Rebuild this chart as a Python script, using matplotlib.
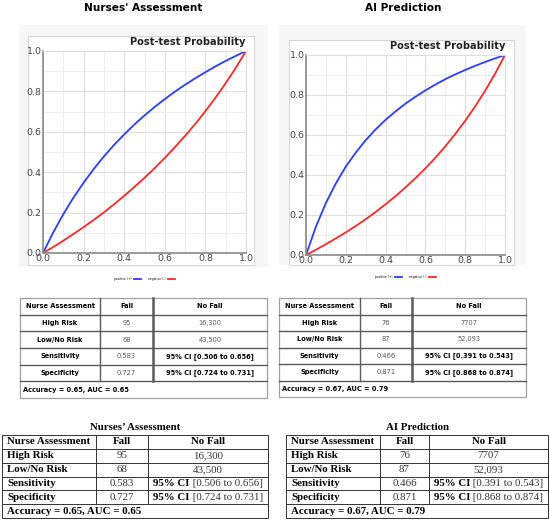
import numpy as np
import matplotlib.pyplot as plt
from matplotlib.patches import Rectangle

W, H = 550, 521

# Post-test probability curves, every 0.05 of pre-test probability
PRETEST = [0.00, 0.05, 0.10, 0.15, 0.20, 0.25, 0.30, 0.35, 0.40, 0.45, 0.50,
           0.55, 0.60, 0.65, 0.70, 0.75, 0.80, 0.85, 0.90, 0.95, 1.00]
NURSE_POS = [0.000, 0.101, 0.192, 0.274, 0.348, 0.416, 0.478, 0.535, 0.587, 0.636, 0.681,
             0.723, 0.762, 0.799, 0.833, 0.865, 0.895, 0.924, 0.951, 0.976, 1.000]
NURSE_NEG = [0.000, 0.029, 0.061, 0.094, 0.128, 0.164, 0.201, 0.241, 0.283, 0.327, 0.372,
             0.420, 0.471, 0.524, 0.580, 0.639, 0.702, 0.769, 0.841, 0.917, 1.000]
AI_POS = [0.000, 0.142, 0.260, 0.358, 0.442, 0.512, 0.574, 0.628, 0.676, 0.718, 0.757,
          0.791, 0.823, 0.852, 0.879, 0.903, 0.925, 0.946, 0.965, 0.983, 1.000]
AI_NEG = [0.000, 0.026, 0.054, 0.083, 0.113, 0.145, 0.179, 0.215, 0.254, 0.294, 0.338,
          0.384, 0.433, 0.486, 0.543, 0.605, 0.671, 0.743, 0.821, 0.906, 1.000]

# Table contents
HEADER = ["Nurse Assessment", "Fall", "No Fall"]
ROW_LABELS = ["High Risk", "Low/No Risk", "Sensitivity", "Specificity"]
NURSE_FALL = ["95", "68", "0.583", "0.727"]
NURSE_NOFALL = ["16,300", "43,500"]
NURSE_CI = ["[0.506 to 0.656]", "[0.724 to 0.731]"]
NURSE_FOOTER = "Accuracy = 0.65, AUC = 0.65"
AI_FALL = ["76", "87", "0.466", "0.871"]
AI_NOFALL = ["7707", "52,093"]
AI_CI = ["[0.391 to 0.543]", "[0.868 to 0.874]"]
AI_FOOTER = "Accuracy = 0.67, AUC = 0.79"

fig = plt.figure(figsize=(W / 100, H / 100), dpi=100)
renderer = fig.canvas.get_renderer()


def px_rect(x0, y0, x1, y1):
    return [x0 / W, 1 - y1 / H, (x1 - x0) / W, (y1 - y0) / H]


def add_box(x0, y0, x1, y1, face, edge="none", lw=0):
    l, b, w, h = px_rect(x0, y0, x1, y1)
    fig.add_artist(Rectangle((l, b), w, h, transform=fig.transFigure,
                             facecolor=face, edgecolor=edge, linewidth=lw, zorder=0))


def draw_plot(panel, box, axbox, title, title_x, pos, neg, legend_y):
    add_box(*panel, face="#f7f7f7")
    add_box(*box, face="white", edge="#d6d6d6", lw=0.8)
    ax = fig.add_axes(px_rect(*axbox))
    ax.plot(PRETEST, pos, color="#2a3cff", lw=1.3, label="positive (+)")
    ax.plot(PRETEST, neg, color="#ff2626", lw=1.3, label="negative (-)")
    ax.set_xlim(0, 1)
    ax.set_ylim(0, 1)
    ax.set_xticks([0, 0.2, 0.4, 0.6, 0.8, 1.0])
    ax.set_yticks([0, 0.2, 0.4, 0.6, 0.8, 1.0])
    ax.set_xticks([0.1, 0.3, 0.5, 0.7, 0.9], minor=True)
    ax.set_yticks([0.1, 0.3, 0.5, 0.7, 0.9], minor=True)
    ax.grid(True, which="major", color="#dedede", lw=0.8)
    ax.grid(True, which="minor", color="#eaeaea", lw=0.6)
    ax.set_axisbelow(True)
    ax.tick_params(which="both", length=0, labelsize=6.8, labelcolor="#444", pad=1)
    for s in ["left", "bottom"]:
        ax.spines[s].set_color("#8a8a8a")
        ax.spines[s].set_linewidth(1.2)
    for s in ["top", "right"]:
        ax.spines[s].set_color("#dddddd")
        ax.spines[s].set_linewidth(0.8)
    h_px = axbox[3] - axbox[1]
    ax.text(1.0, 1 + 9 / h_px, "Post-test Probability", transform=ax.transAxes,
            ha="right", va="center", fontsize=7.1, fontweight="bold", color="#222")
    fig.text(title_x / W, 1 - 8 / H, title, ha="center", va="center",
             fontsize=7.6, fontweight="bold")
    ax.legend(loc="center", bbox_to_anchor=(0.5, -(legend_y - axbox[3]) / h_px),
              ncol=2, frameon=False, fontsize=2.2, handlelength=2.5,
              markerfirst=False, columnspacing=2)
    return ax


draw_plot((19, 25, 268, 267), (28, 36, 254, 265), (43, 51, 246, 253),
          "Nurses' Assessment", 143, NURSE_POS, NURSE_NEG, 279)
draw_plot((279, 25, 526, 265), (289, 40, 514, 265), (306, 55, 505, 255),
          "AI Prediction", 403, AI_POS, AI_NEG, 277)


def table_axes(x0, y0, x1, y1):
    ax = fig.add_axes(px_rect(x0, y0, x1, y1))
    ax.set_xlim(x0, x1)
    ax.set_ylim(y1, y0)
    ax.axis("off")
    return ax


def draw_top_table(x0, y0, x1, y1, cols, fall, nofall, ci, footer):
    ax = table_axes(x0, y0, x1, y1)
    rows = np.linspace(y0, y1, 7)
    mids = (rows[:-1] + rows[1:]) / 2
    edges = [x0] + cols + [x1]
    centers = [(edges[i] + edges[i + 1]) / 2 for i in range(3)]
    ax.add_patch(Rectangle((x0, y0), x1 - x0, y1 - y0, fill=False,
                           edgecolor="#a0a0a0", lw=0.9, clip_on=False))
    for y in rows[1:-1]:
        ax.plot([x0, x1], [y, y], color="#5a5a5a", lw=1.0, clip_on=False)
    ax.plot([cols[0]] * 2, [y0, rows[5]], color="#5a5a5a", lw=1.0, clip_on=False)
    ax.plot([cols[1]] * 2, [y0, rows[5]], color="#5a5a5a", lw=1.8, clip_on=False)
    fs = 4.8
    for c, t in zip(centers, HEADER):
        ax.text(c, mids[0], t, ha="center", va="center", fontsize=fs, fontweight="bold")
    for i, lab in enumerate(ROW_LABELS):
        y = mids[i + 1]
        ax.text(centers[0], y, lab, ha="center", va="center", fontsize=fs, fontweight="bold")
        ax.text(centers[1], y, fall[i], ha="center", va="center", fontsize=fs, color="#555")
        if i < 2:
            ax.text(centers[2], y, nofall[i], ha="center", va="center", fontsize=fs, color="#555")
        else:
            ax.text(centers[2], y, "95% CI " + ci[i - 2], ha="center", va="center",
                    fontsize=fs, fontweight="bold")
    ax.text(x0 + 3, mids[5], footer, ha="left", va="center", fontsize=fs, fontweight="bold")


def draw_bottom_table(x0, y0, x1, y1, cols, title, fall, nofall, ci, footer):
    ax = table_axes(x0, y0, x1, y1)
    serif = dict(family="Liberation Serif", fontsize=7.8)
    rows = np.linspace(y0, y1, 7)
    mids = (rows[:-1] + rows[1:]) / 2
    edges = [x0] + cols + [x1]
    centers = [(edges[i] + edges[i + 1]) / 2 for i in range(3)]
    ax.add_patch(Rectangle((x0, y0), x1 - x0, y1 - y0, fill=False,
                           edgecolor="#333", lw=0.7, clip_on=False))
    for y in rows[1:-1]:
        ax.plot([x0, x1], [y, y], color="#333", lw=0.7, clip_on=False)
    for c in cols:
        ax.plot([c, c], [y0, rows[5]], color="#333", lw=0.7, clip_on=False)
    ax.text((x0 + x1) / 2, y0 - 7, title, ha="center", va="center",
            fontweight="bold", **serif)
    for c, t in zip(centers, HEADER):
        ax.text(c, mids[0], t, ha="center", va="center", fontweight="bold", **serif)
    for i, lab in enumerate(ROW_LABELS):
        y = mids[i + 1]
        ax.text(x0 + 5, y, lab, ha="left", va="center", fontweight="bold", **serif)
        ax.text(centers[1], y, fall[i], ha="center", va="center", color="#333", **serif)
        if i < 2:
            ax.text(centers[2], y, nofall[i], ha="center", va="center", color="#333", **serif)
        else:
            # bold "95% CI" followed by the plain interval, centred as one piece
            t1 = ax.text(0, y, "95% CI", ha="left", va="center", fontweight="bold", **serif)
            t2 = ax.text(0, y, " " + ci[i - 2], ha="left", va="center", color="#333", **serif)
            w1 = t1.get_window_extent(renderer).width
            w2 = t2.get_window_extent(renderer).width
            start = centers[2] - (w1 + w2) / 2
            t1.set_x(start)
            t2.set_x(start + w1)
    ax.text(x0 + 5, mids[5], footer, ha="left", va="center", fontweight="bold", **serif)


draw_top_table(20, 298, 267, 398, [100, 153], NURSE_FALL, NURSE_NOFALL, NURSE_CI, NURSE_FOOTER)
draw_top_table(279, 298, 526, 397, [360, 412], AI_FALL, AI_NOFALL, AI_CI, AI_FOOTER)
draw_bottom_table(2, 435, 268, 518, [96, 148], "Nurses\u2019 Assessment",
                  NURSE_FALL, NURSE_NOFALL, NURSE_CI, NURSE_FOOTER)
draw_bottom_table(286, 435, 548, 518, [380, 429], "AI Prediction",
                  AI_FALL, AI_NOFALL, AI_CI, AI_FOOTER)

fig.savefig("out.png", dpi=100)
